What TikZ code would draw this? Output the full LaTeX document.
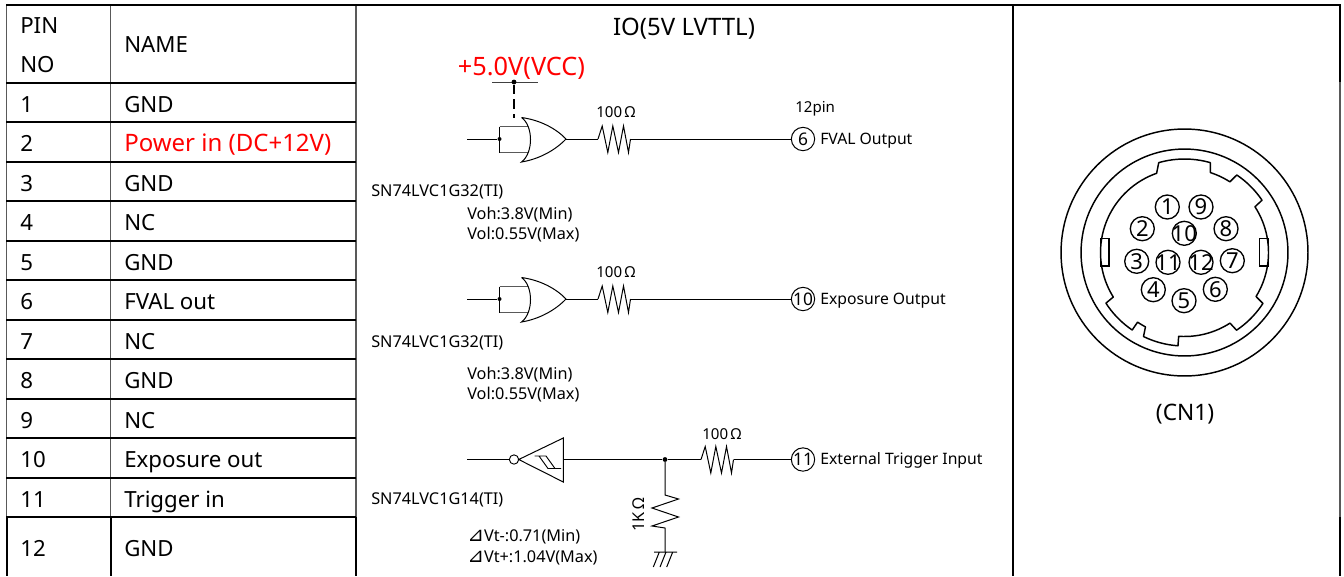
\documentclass[tikz,border=0pt]{standalone}
\usepackage{fontspec}
\setmainfont{Noto Sans}
\newfontfamily\symfont{DejaVu Sans}
\usetikzlibrary{calc}
\tikzset{x=0.75pt,y=-0.75pt,
 gridk/.style={line width=1.5pt,black},
 gridg/.style={line width=1.1pt,black!65},
 wire/.style={line width=0.75pt,black},
 cell/.style={anchor=base west,inner sep=0,font=\fontsize{16.7}{20}\selectfont},
 sm/.style={anchor=base west,inner sep=0,font=\fontsize{12.2}{14}\selectfont},
 tiny/.style={anchor=base west,inner sep=0,font=\fontsize{11.3}{14}\selectfont},
 lbl/.style={anchor=base west,inner sep=0,font=\fontsize{11.8}{14}\selectfont},
 pinc/.style={circle,draw,line width=1pt,minimum size=18pt,inner sep=0,font=\fontsize{16.5}{15}\selectfont},
 conn/.style={circle,draw,line width=0.75pt,minimum size=17.5pt,inner sep=0,font=\fontsize{13}{12}\selectfont},
 dotn/.style={circle,fill=black,inner sep=0,minimum size=3.6pt},
}
\newcommand{\orgate}[2]{%
 \draw[line width=1.2pt,black!65] (#1,#2-12.5) -- (#1+30,#2-12.5) (#1,#2+13.5) -- (#1+30,#2+13.5);
 \draw[wire] (#1,#2-12.5) -- (#1,#2+13.5);
 \draw[wire,fill=white] (#1+22,#2-21.5) .. controls (#1+40,#2-19) and (#1+56,#2-11) .. (#1+66.5,#2)
  .. controls (#1+56,#2+11) and (#1+40,#2+20) .. (#1+22,#2+23)
  .. controls (#1+34,#2+14) and (#1+34,#2-13) .. (#1+22,#2-21.5);
}
\newcommand{\resH}[2]{%
 \draw[wire] (#1-0.5,#2) -- (#1+3.7,#2-13) -- (#1+9.3,#2+13.5) -- (#1+14.3,#2-13) -- (#1+20,#2+13.5) -- (#1+25,#2-13) -- (#1+30,#2+13.5) -- (#1+32,#2);}
\newcommand{\pinlab}[1]{\makebox[0pt]{#1}}
\begin{document}
\begin{tikzpicture}
\useasboundingbox (0,0) rectangle (1344,576);
\fill[white] (0,0) rectangle (1344,576);
% table grid
\draw[gridg] (6.5,5) -- (6.5,517) (110.5,5) -- (110.5,517) (356,5) -- (356,517) (1340,82) -- (1340,517);
\draw[gridk] (1012.5,5) -- (1012.5,576) (6.5,517) -- (6.5,576) (110.5,517) -- (110.5,576) (356,517) -- (356,576) (1340,5) -- (1340,82) (1340,517) -- (1340,576);
\draw[gridk] (6,5) -- (1340.5,5);
\foreach \y in {83,122,162,201,241,280,320,359,399,438,478,517}
  \draw[gridk] (6,\y) -- (356,\y);
% table text
\node[cell] (ph1) at (20,33.5) {PIN};
\node[cell] (ph2) at (20,72.5) {NO};
\node[cell] (nh) at (124,52.5) {NAME};
\foreach \y/\n/\t in {112/1/GND,191/3/GND,230/4/NC,270/5/GND,309/6/FVAL out,349/7/NC,388/8/GND,428/9/NC,467/10/Exposure out,507/11/Trigger in,556/12/GND}{
  \node[cell] (p\n) at (20,\y) {\n};
  \node[cell] (t\n) at (124,\y) {\t};
}
\node[cell] (p2) at (20,151) {2};
\node[cell,text=red,font=\fontsize{18}{20}\selectfont] (t2) at (124,151) {Power in (DC+12V)};
\node[cell,anchor=base,font=\fontsize{18}{20}\selectfont] (title) at (684,35.5) {IO(5V LVTTL)};
% VCC
\node[cell,anchor=base,text=red,font=\fontsize{19}{20}\selectfont] (vcc) at (521.5,75) {+5.0V(VCC)};
\coordinate (vl) at (492,82);
\coordinate (vr) at (538,82);
\draw[line width=0.7pt,black!75] (vl) -- (vr);
\node[dotn] (vd) at (514,82) {};
\coordinate (ge) at (514,118);
\draw[line width=1.2pt,dash pattern=on 7pt off 4pt] (vd) -- (ge);
% gate 1
\coordinate (i1) at (467,139);
\node[dotn,minimum size=3pt] (j1) at (499.5,139) {};
\orgate{499.5}{139}
\coordinate (o1) at (566,139);
\coordinate (r1a) at (598,139);
\coordinate (r1b) at (631,139);
\draw[wire] (i1) -- (j1);
\draw[wire] (o1) -- (r1a);
\resH{598.5}{139}
\node[conn] (c6) at (803,139) {6};
\draw[wire] (r1b) -- (c6);
\node[tiny] (l100a) at (596,117.5) {100\,Ω};
\node[tiny] (l12) at (795,112.5) {12pin};
\node[lbl] (lf) at (820,144.5) {FVAL Output};
\node[sm] (sn1) at (371,196) {SN74LVC1G32(TI)};
\node[sm] (voh1) at (467,219) {Voh:3.8V(Min)};
\node[sm] (vol1) at (467,239) {Vol:0.55V(Max)};
% gate 2
\coordinate (i2) at (467,299);
\node[dotn,minimum size=3pt] (j2) at (499.5,299) {};
\orgate{499.5}{299}
\coordinate (o2) at (566,299);
\coordinate (r2a) at (598,299);
\coordinate (r2b) at (631,299);
\draw[wire] (i2) -- (j2);
\draw[wire] (o2) -- (r2a);
\resH{598.5}{299}
\node[conn] (c10) at (803,299) {\pinlab{10}};
\draw[wire] (r2b) -- (c10);
\node[tiny] (l100b) at (596,277.5) {100\,Ω};
\node[lbl] (le) at (820,304.5) {Exposure Output};
\node[sm] (sn2) at (371,347) {SN74LVC1G32(TI)};
\node[sm] (voh2) at (467,379) {Voh:3.8V(Min)};
\node[sm] (vol2) at (467,399) {Vol:0.55V(Max)};
% inverter
\coordinate (i3) at (467,459.5);
\node[circle,draw,line width=0.7pt,minimum size=7pt,inner sep=0] (bub) at (514,459.5) {};
\coordinate (tri) at (518.7,459.5);
\draw[wire] (tri) -- (563.3,438) -- (563.3,482) -- cycle;
\draw[line width=0.7pt] (534.5,456) -- (546,456) -- (555,468.5) -- (561,468.5) (539,456) -- (548,468.5) -- (555,468.5);
\node[dotn] (j3) at (665,459.5) {};
\draw[wire] (i3) -- (bub);
\draw[wire] (563.3,459.5) -- (j3);
\coordinate (r3a) at (701,459.5);
\coordinate (r3b) at (734,459.5);
\draw[wire] (j3) -- (r3a);
\resH{701.5}{459.5}
\node[conn] (c11) at (803,459.5) {\pinlab{11}};
\draw[wire] (r3b) -- (c11);
\node[tiny] (l100c) at (702,439.5) {100\,Ω};
\node[lbl] (lt) at (820,464.5) {External Trigger Input};
\node[sm] (sn3) at (371,504) {SN74LVC1G14(TI)};
\node[sm] (vt1) at (467,541) {{\symfont\fontsize{15}{15}\selectfont ⊿}Vt-:0.71(Min)};
\node[sm] (vt2) at (467,562) {{\symfont\fontsize{15}{15}\selectfont ⊿}Vt+:1.04V(Max)};
% 1K
\coordinate (g3) at (665,552);
\draw[wire] (j3) -- (665,495) -- (678.5,499) -- (652,508) -- (678.5,517) -- (652,526) -- (665,528) -- (g3);
\node[sm,anchor=center,rotate=90] (l1k) at (638.5,515) {1K\,Ω};
\draw[wire] (654,552) -- (677,552) (659.3,552) -- (653.3,567) (666,552) -- (660,567) (672.7,552) -- (666.7,567);
% connector
\coordinate (cc) at (1184.5,252.5);
\draw[line width=1.1pt] (cc) circle[radius=92.6pt];
\draw[line width=1.1pt] (cc) circle[radius=77.6pt];
\def\ra{84}\def\rb{93.5}
\draw[line width=1.1pt,line join=round]
 plot[domain=-106:-74,samples=12] ({1184.5+\rb*cos(\x)},{252.5+\rb*sin(\x)})
 -- plot[domain=-72:-57.3,samples=8] ({1184.5+\ra*cos(\x)},{252.5+\ra*sin(\x)})
 -- plot[domain=-56:-34,samples=10] ({1184.5+\rb*cos(\x)},{252.5+\rb*sin(\x)})
 -- plot[domain=-33:31.6,samples=24] ({1184.5+\ra*cos(\x)},{252.5+\ra*sin(\x)})
 -- plot[domain=33:56.2,samples=10] ({1184.5+\rb*cos(\x)},{252.5+\rb*sin(\x)})
 -- plot[domain=57.2:94,samples=14] ({1184.5+\ra*cos(\x)},{252.5+\ra*sin(\x)})
 -- plot[domain=94:116,samples=10] ({1184.5+\rb*cos(\x)},{252.5+\rb*sin(\x)})
 -- plot[domain=117.7:124,samples=4] ({1184.5+\ra*cos(\x)},{252.5+\ra*sin(\x)})
 -- plot[domain=124:147.2,samples=10] ({1184.5+\rb*cos(\x)},{252.5+\rb*sin(\x)})
 -- plot[domain=148:250.6,samples=36] ({1184.5+\ra*cos(\x)},{252.5+\ra*sin(\x)})
 -- cycle;
\draw[line width=1.1pt] (1100.7,238.3) rectangle (1109,266);
\draw[line width=1.1pt] (1259.3,238.3) rectangle (1268.3,266);
\foreach \n/\x/\y in {1/1167.3/207,9/1201/207,2/1142.3/228.7,10/1184.3/233.3,8/1226/228.7,3/1136.7/261.3,11/1168/262.3,12/1201/262.3,7/1232.3/260.7,4/1153.3/289.7,5/1184/300.7,6/1215.3/289.3}
  \node[pinc] (pin\n) at (\x,\y) {\pinlab{\n}};
\node[cell,anchor=base,font=\fontsize{17}{20}\selectfont] (cn) at (1185,420) {(CN1)};
\end{tikzpicture}
\end{document}
